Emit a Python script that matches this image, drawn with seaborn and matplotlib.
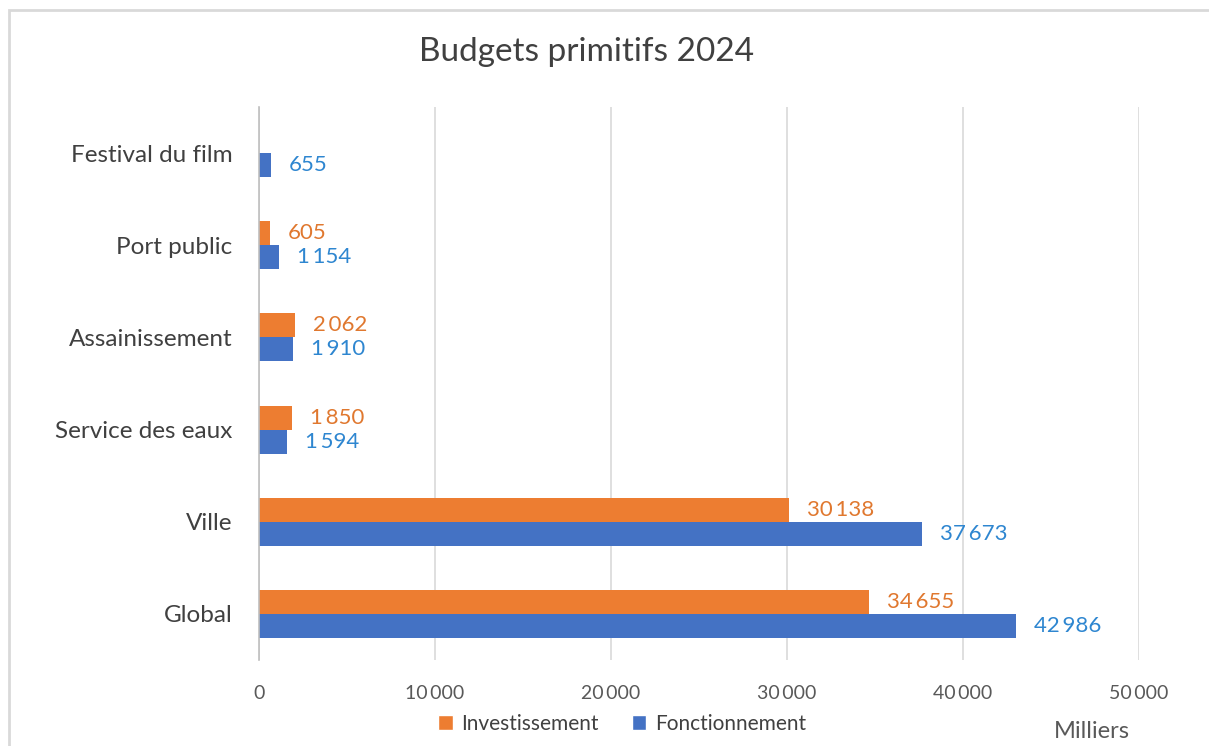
import matplotlib
matplotlib.use("Agg")
import matplotlib.pyplot as plt
import seaborn as sns
import pandas as pd
import numpy as np
from matplotlib.patches import Rectangle, Patch

categories = ["Festival du film", "Port public", "Assainissement", "Service des eaux", "Ville", "Global"]
investissement = [np.nan, 605, 2062, 1850, 30138, 34655]
fonctionnement = [655, 1154, 1910, 1594, 37673, 42986]
series_names = ["Investissement", "Fonctionnement"]
x_ticks = [0, 10000, 20000, 30000, 40000, 50000]

sns.set_style("white")
plt.rcParams['font.family'] = ['Lato', 'DejaVu Sans']

df = pd.DataFrame({
    "cat": categories * 2,
    "serie": [series_names[0]] * len(categories) + [series_names[1]] * len(categories),
    "val": investissement + fonctionnement,
})

c_inv = "#ED7D31"
c_fon = "#4472C4"
lab_inv = "#E0782F"
lab_fon = "#2E86D0"

fig = plt.figure(figsize=(12.09, 7.46), dpi=100)
# outer chart frame
fig.patches.append(Rectangle((9/1209, -0.1), 1.2, (1-10/746) + 0.1, transform=fig.transFigure,
                             fill=False, edgecolor="#D9D9D9", linewidth=2.0))
ax = fig.add_axes([259/1209, 1-660/746, 880/1209, 553/746])

sns.barplot(data=df, y="cat", x="val", hue="serie", order=categories, hue_order=series_names,
            palette=[c_inv, c_fon], orient="h", width=0.52, dodge=True, legend=False, ax=ax,
            saturation=1, linewidth=0)

def fmt(v):
    return f"{v:,.0f}".replace(",", "\u2009")

for cont, col in zip(ax.containers, [lab_inv, lab_fon]):
    labels = [fmt(b.get_width()) if np.isfinite(b.get_width()) and b.get_width() > 0 else "" for b in cont]
    ax.bar_label(cont, labels=labels, padding=13, color=col, fontsize=16)

ax.set_xlim(0, 50000)
ax.set_ylim(5.5, -0.5)
ax.set_xticks(x_ticks)
ax.set_xticklabels([fmt(t) for t in x_ticks], color="#595959", fontsize=14)
ax.tick_params(axis="x", length=0, pad=18)
ax.tick_params(axis="y", length=0, pad=19, labelsize=17.5, labelcolor="#404040")
ax.set_xlabel("")
ax.set_ylabel("")
ax.grid(axis="x", color="#D9D9D9", linewidth=1.2)
ax.set_axisbelow(True)
for s in ["top", "right", "bottom"]:
    ax.spines[s].set_visible(False)
ax.spines["left"].set_color("#BFBFBF")
ax.spines["left"].set_linewidth(1.2)

fig.text(587/1209, 1-52/746, "Budgets primitifs 2024", ha="center", va="center",
         fontsize=24, color="#404040")

handles = [Patch(facecolor=c_inv, label=series_names[0]), Patch(facecolor=c_fon, label=series_names[1])]
fig.legend(handles=handles, loc="center", bbox_to_anchor=(622/1209, 1-724/746), ncol=2, frameon=False,
           fontsize=15, handlelength=0.7, handleheight=0.7, handletextpad=0.4, columnspacing=1.6,
           labelcolor="#404040")
fig.text(1092/1209, 1-732/746, "Milliers", ha="center", va="center", fontsize=17, color="#595959")

fig.savefig("out.png", dpi=100)
